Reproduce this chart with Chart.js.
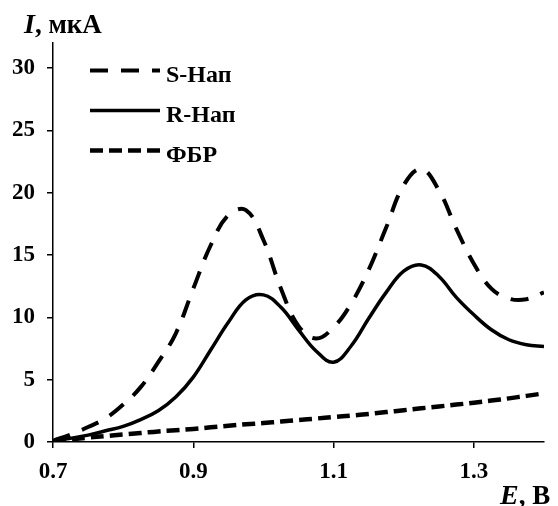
<!DOCTYPE html>
<html>
<head>
<meta charset="utf-8">
<script src="https://cdn.jsdelivr.net/npm/chart.js@4/dist/chart.umd.min.js"></script>
<style>
  body { margin: 0; background: #fff; }
  #wrap { width: 558px; height: 506px; position: relative; }
</style>
</head>
<body>
<div id="wrap"><canvas id="cv"></canvas></div>
<script>
// potential, V
const potentials = [0.7, 0.725, 0.75, 0.775, 0.8, 0.825, 0.85, 0.875, 0.9, 0.925, 0.95, 0.975,
  1.0, 1.025, 1.05, 1.075, 1.1, 1.125, 1.15, 1.175, 1.2, 1.225, 1.25, 1.275, 1.3, 1.325, 1.35, 1.375, 1.4];
// current, uA
const sNap = [0.1, 0.6, 1.2, 1.9, 3.0, 4.4, 6.4, 8.7, 12.3, 15.8, 18.2, 18.6,
  16.2, 12.3, 9.3, 8.3, 9.2, 11.1, 13.8, 17.2, 20.6, 21.9, 20.2, 17.1, 14.3, 12.3, 11.5, 11.45, 12.0];
const rNap = [0.1, 0.3, 0.55, 0.9, 1.25, 1.8, 2.5, 3.6, 5.2, 7.4, 9.6, 11.4,
  11.8, 10.8, 9.0, 7.3, 6.4, 7.7, 9.9, 12.0, 13.7, 14.2, 13.3, 11.6, 10.2, 9.0, 8.2, 7.8, 7.65];
const fbr = [0.05, 0.2, 0.35, 0.48, 0.6, 0.72, 0.85, 0.95, 1.05, 1.18, 1.3, 1.42,
  1.52, 1.64, 1.76, 1.88, 2.0, 2.12, 2.25, 2.4, 2.55, 2.7, 2.85, 3.0, 3.15, 3.32, 3.5, 3.7, 3.9];

const seriesNames = ['S-Нап', 'R-Нап', 'ФБР'];
const xTicks = [0.7, 0.9, 1.1, 1.3];
const yTicks = [0, 5, 10, 15, 20, 25, 30];

const serif = '"Liberation Serif"';

function pts(ys) {
  return potentials.map((x, i) => ({ x: x, y: ys[i] }));
}

// legend with line samples that keep the dash pattern
const lineLegend = {
  id: 'lineLegend',
  afterDraw(chart) {
    const ctx = chart.ctx;
    ctx.save();
    chart.data.datasets.forEach((ds, i) => {
      const y = 70.5 + i * 40;
      ctx.beginPath();
      ctx.setLineDash(ds.borderDash || []);
      ctx.lineWidth = ds.borderWidth;
      ctx.strokeStyle = ds.borderColor;
      ctx.moveTo(90, y);
      ctx.lineTo(160, y);
      ctx.stroke();
      ctx.setLineDash([]);
      ctx.fillStyle = '#000';
      ctx.font = 'bold 24px ' + serif;
      ctx.textBaseline = 'middle';
      ctx.textAlign = 'left';
      ctx.fillText(ds.label, 166, y + 5);
    });
    ctx.restore();
  }
};

// axis captions with an italic symbol
const axisCaptions = {
  id: 'axisCaptions',
  afterDraw(chart) {
    const ctx = chart.ctx;
    ctx.save();
    ctx.fillStyle = '#000';
    ctx.textBaseline = 'alphabetic';
    ctx.textAlign = 'left';
    function caption(sym, rest, x, y) {
      ctx.font = 'italic bold 28px ' + serif;
      ctx.fillText(sym, x, y);
      const w = ctx.measureText(sym).width;
      ctx.font = 'bold 27px ' + serif;
      ctx.fillText(rest, x + w, y);
    }
    caption('I', ', мкА', 24, 33);
    caption('E', ', В', 500, 504);
    ctx.restore();
  }
};

function draw() {
  new Chart(document.getElementById('cv'), {
    type: 'line',
    data: {
      datasets: [
        { label: seriesNames[0], data: pts(sNap), borderColor: '#000', borderWidth: 4, borderDash: [18, 13] },
        { label: seriesNames[1], data: pts(rNap), borderColor: '#000', borderWidth: 3.5 },
        { label: seriesNames[2], data: pts(fbr), borderColor: '#000', borderWidth: 4.5, borderDash: [13, 6] }
      ]
    },
    options: {
      responsive: true,
      maintainAspectRatio: false,
      animation: false,
      layout: { padding: { top: 43, right: 14, left: 0, bottom: 0 } },
      elements: {
        point: { radius: 0 },
        line: { tension: 0.4, fill: false }
      },
      plugins: { legend: { display: false }, tooltip: { enabled: false } },
      scales: {
        x: {
          type: 'linear',
          min: 0.7,
          max: 1.4,
          afterBuildTicks: s => { s.ticks = xTicks.map(v => ({ value: v })); },
          afterFit: s => { s.height = 64; },
          border: { color: '#000', width: 1.5 },
          grid: { drawOnChartArea: false, color: '#000', tickLength: 6, lineWidth: 1.5 },
          ticks: {
            color: '#000',
            padding: 10,
            maxRotation: 0,
            font: { family: serif, size: 23, weight: 'bold' },
            callback: v => v.toFixed(1)
          }
        },
        y: {
          min: 0,
          max: 32,
          afterBuildTicks: s => { s.ticks = yTicks.map(v => ({ value: v })); },
          afterFit: s => { s.width = 53; },
          border: { color: '#000', width: 1.5 },
          grid: { drawOnChartArea: false, color: '#000', tickLength: 6, lineWidth: 1.5 },
          ticks: {
            color: '#000',
            padding: 12,
            font: { family: serif, size: 23, weight: 'bold' }
          }
        }
      }
    },
    plugins: [lineLegend, axisCaptions]
  });
}

// make sure the serif faces are ready before the canvas is painted
Promise.all([
  document.fonts.load('bold 22px "Liberation Serif"', 'S-Нап ФБР 0.7'),
  document.fonts.load('italic bold 25px "Liberation Serif"', 'IE')
]).then(draw, draw);
</script>
</body>
</html>
